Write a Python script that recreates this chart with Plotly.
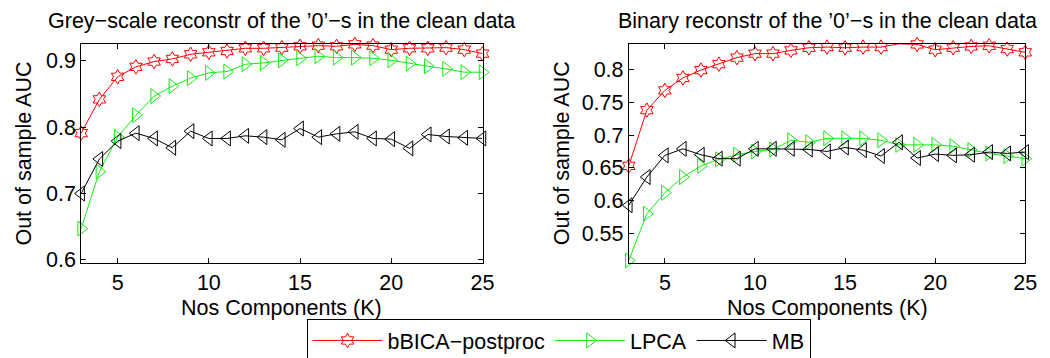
import plotly.graph_objects as go

K = list(range(3, 26))

grey_bbica = [0.791, 0.842, 0.876, 0.891, 0.899, 0.903, 0.910, 0.913, 0.915, 0.919, 0.919, 0.920,
              0.922, 0.923, 0.922, 0.925, 0.923, 0.917, 0.919, 0.919, 0.920, 0.917, 0.911]
grey_lpca = [0.647, 0.733, 0.785, 0.818, 0.847, 0.862, 0.874, 0.882, 0.884, 0.895, 0.897, 0.901,
             0.904, 0.907, 0.905, 0.905, 0.904, 0.901, 0.896, 0.892, 0.888, 0.883, 0.883]
grey_mb = [0.700, 0.752, 0.779, 0.791, 0.783, 0.769, 0.794, 0.783, 0.783, 0.787, 0.785, 0.781,
           0.798, 0.785, 0.790, 0.793, 0.783, 0.782, 0.768, 0.789, 0.786, 0.784, 0.783]

bin_bbica = [0.653, 0.738, 0.768, 0.787, 0.799, 0.808, 0.818, 0.824, 0.824, 0.829, 0.833, 0.834,
             0.833, 0.834, 0.834, 0.839, 0.838, 0.830, 0.833, 0.835, 0.836, 0.831, 0.826]
bin_lpca = [0.509, 0.580, 0.612, 0.636, 0.653, 0.663, 0.670, 0.675, 0.678, 0.692, 0.689, 0.695,
            0.695, 0.695, 0.692, 0.685, 0.685, 0.685, 0.683, 0.677, 0.672, 0.668, 0.664]
bin_mb = [0.593, 0.636, 0.669, 0.679, 0.670, 0.664, 0.664, 0.679, 0.679, 0.679, 0.678, 0.675,
          0.681, 0.677, 0.668, 0.689, 0.665, 0.671, 0.669, 0.670, 0.674, 0.672, 0.674]

series_names = ["bBICA\u2212postproc", "LPCA", "MB"]
series_colors = ["#ff0000", "#11ee11", "#000000"]
series_symbols = ["hexagram-open", "triangle-right-open", "triangle-left-open"]
series_sizes = [11, 13, 13]

titles = ["Grey\u2212scale reconstr of the \u20190\u2019\u2212s in the clean data",
          "Binary reconstr of the \u20190\u2019\u2212s in the clean data"]
xlabel = "Nos Components (K)"
ylabel = "Out of sample AUC"

left_yticks = [0.6, 0.7, 0.8, 0.9]
right_yticks = [0.55, 0.6, 0.65, 0.7, 0.75, 0.8]
xticks = [5, 10, 15, 20, 25]

FONT = "Liberation Sans, Arial, Helvetica, sans-serif"
FS = 21.5
W, H = 1050, 358

fig = go.Figure()
left_data = [grey_bbica, grey_lpca, grey_mb]
right_data = [bin_bbica, bin_lpca, bin_mb]
for i in range(3):
    fig.add_trace(go.Scatter(x=K, y=left_data[i], mode="lines+markers", name=series_names[i],
                             line=dict(color=series_colors[i], width=1),
                             marker=dict(symbol=series_symbols[i], size=series_sizes[i],
                                         color=series_colors[i], line=dict(width=1, color=series_colors[i])),
                             cliponaxis=False, xaxis="x", yaxis="y", showlegend=True))
for i in range(3):
    fig.add_trace(go.Scatter(x=K, y=right_data[i], mode="lines+markers", name=series_names[i],
                             line=dict(color=series_colors[i], width=1),
                             marker=dict(symbol=series_symbols[i], size=series_sizes[i],
                                         color=series_colors[i], line=dict(width=1, color=series_colors[i])),
                             cliponaxis=False, xaxis="x2", yaxis="y2", showlegend=False))

# pixel layout
L_x0, L_x1 = 74, 480
R_x0, R_x1 = 628, 1029
Y_top, Y_bot = 37, 262
ydom = [1 - Y_bot / H, 1 - Y_top / H]

axcommon = dict(showline=True, linecolor="black", linewidth=1, mirror="ticks", ticks="inside",
                ticklen=5, tickcolor="black", showgrid=False, zeroline=False,
                tickfont=dict(family=FONT, size=FS, color="black"))

fig.update_layout(
    width=W, height=H, margin=dict(l=0, r=0, t=0, b=0),
    paper_bgcolor="white", plot_bgcolor="white",
    font=dict(family=FONT, size=FS, color="black"),
    xaxis=dict(domain=[L_x0 / W, L_x1 / W], range=[3, 25], tickvals=xticks, anchor="y", **axcommon),
    yaxis=dict(domain=ydom, range=[0.5945, 0.9254], tickvals=left_yticks,
               ticktext=[f"{v:g}" for v in left_yticks], anchor="x", **axcommon),
    xaxis2=dict(domain=[R_x0 / W, R_x1 / W], range=[3, 25], tickvals=xticks, anchor="y2", **axcommon),
    yaxis2=dict(domain=ydom, range=[0.5044, 0.8386], tickvals=right_yticks,
                ticktext=[f"{v:g}" for v in right_yticks], anchor="x2", **axcommon),
    legend=dict(orientation="h", x=302 / W, xanchor="left", y=1 - 319 / H, yanchor="top",
                bordercolor="black", borderwidth=1, bgcolor="white",
                font=dict(family=FONT, size=FS, color="black"), itemwidth=70,
                tracegroupgap=0),
    showlegend=True,
)

annos = []
for (x0, x1, t) in [(L_x0, L_x1, titles[0]), (R_x0, R_x1, titles[1])]:
    cx = (x0 + x1) / 2 / W
    annos.append(dict(text=t, x=cx, y=1 - 13 / H, xref="paper", yref="paper",
                      xanchor="center", yanchor="middle", showarrow=False,
                      font=dict(family=FONT, size=FS, color="black")))
    annos.append(dict(text=xlabel, x=cx, y=1 - 308 / H, xref="paper", yref="paper",
                      xanchor="center", yanchor="middle", showarrow=False,
                      font=dict(family=FONT, size=FS, color="black")))
for yx in [16, 560]:
    annos.append(dict(text=ylabel, x=yx / W, y=1 - 149.5 / H, xref="paper", yref="paper",
                      xanchor="center", yanchor="middle", showarrow=False, textangle=-90,
                      font=dict(family=FONT, size=FS, color="black")))
fig.update_layout(annotations=annos)

fig.write_html("out.html")
